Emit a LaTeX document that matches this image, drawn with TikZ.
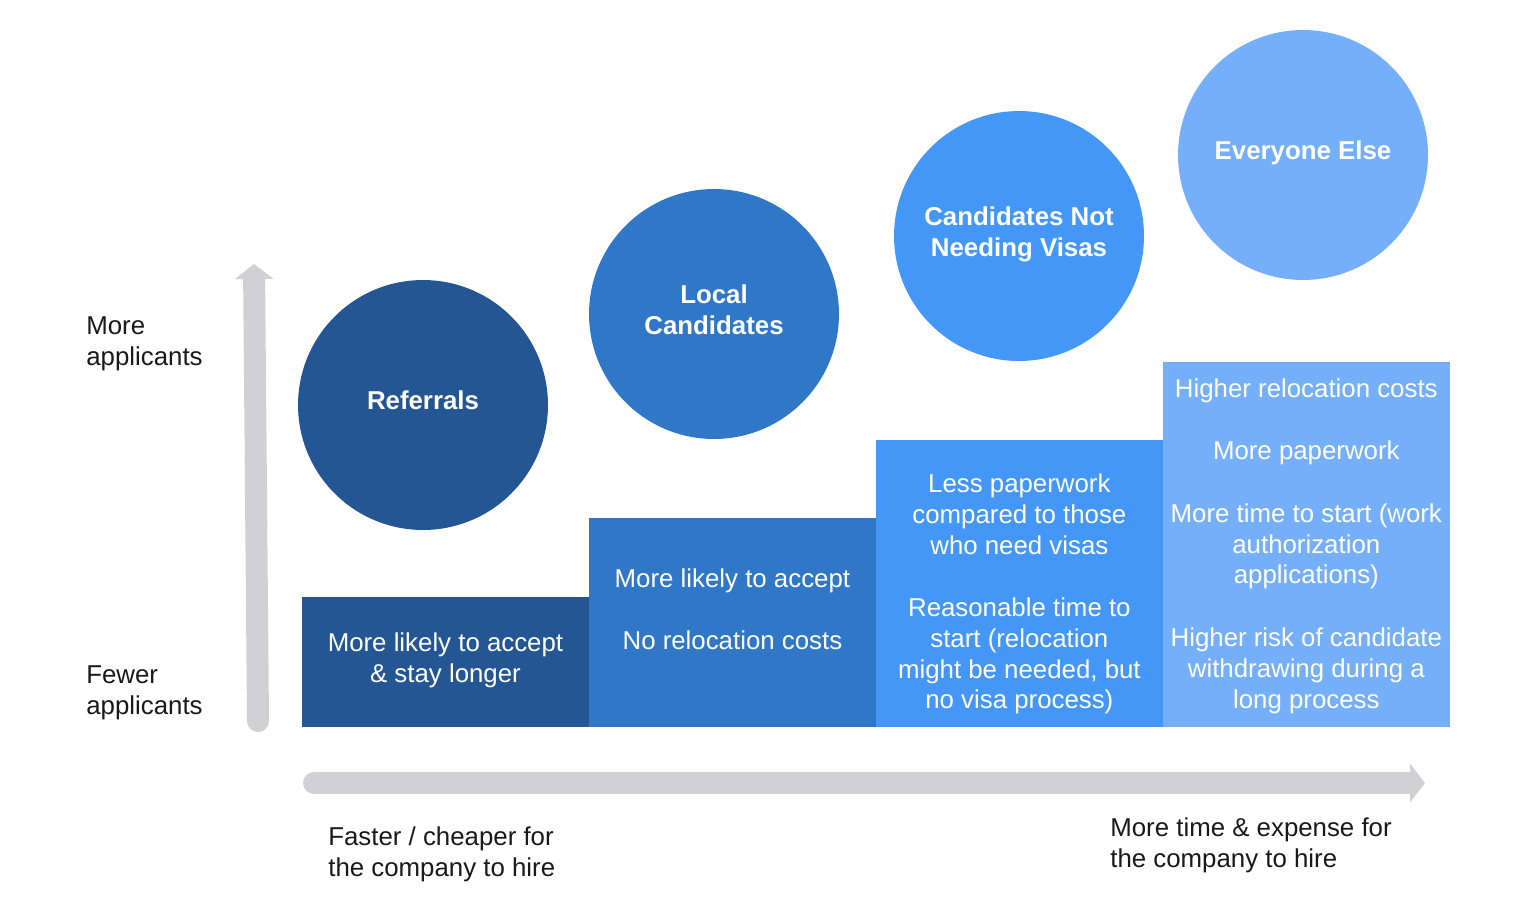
\documentclass[tikz,border=0pt]{standalone}
\usepackage{fontspec}
\setmainfont{Liberation Sans}
\usepackage{xcolor}
\usetikzlibrary{arrows.meta,positioning}

\definecolor{tierone}{HTML}{245693}
\definecolor{tiertwo}{HTML}{3077C8}
\definecolor{tierthree}{HTML}{4597F7}
\definecolor{tierfour}{HTML}{75AFFA}
\definecolor{axisgray}{HTML}{D1D1D3}

\begin{document}
\begin{tikzpicture}[
    x=0.02cm, y=-0.02cm,
    stepbox/.style={rectangle, anchor=south west, inner sep=0pt,
        outer sep=0pt, minimum width=5.74cm},
    steptext/.style={inner sep=0pt, align=center, text=white,
        font=\fontsize{14.7}{17.6}\selectfont},
    bubble/.style={circle, minimum size=5cm, inner sep=0pt,
        text depth=0.18cm,
        align=center, text=white,
        font=\fontsize{14.7}{17.6}\selectfont\bfseries},
    sidelbl/.style={anchor=west, inner sep=0pt, align=left,
        text=black!90, font=\fontsize{14.7}{17.6}\selectfont},
    axisarrow/.style={draw=axisgray, line width=0.44cm, line cap=round,
        -{Triangle[length=0.3cm, width=0.76cm]}}
]
\useasboundingbox (0,0) rectangle (1521,921);

% steps
\node[stepbox, fill=tierone, minimum height=2.6cm] (b1) at (302,727) {};
\node[stepbox, fill=tiertwo, minimum height=4.18cm] (b2) at (b1.south east) {};
\node[stepbox, fill=tierthree, minimum height=5.74cm] (b3) at (b2.south east) {};
\node[stepbox, fill=tierfour, minimum height=7.3cm] (b4) at (b3.south east) {};

\node[steptext] (t1) at ([yshift=0.04cm]b1.center)
    {More likely to accept\\\& stay longer};
\node[steptext] (t2) at ([yshift=0.26cm]b2.center)
    {More likely to accept\\[0.62cm]No relocation costs};
\node[steptext] (t3) at ([yshift=-0.21cm]b3.center)
    {Less paperwork\\compared to those\\who need visas\\[0.62cm]Reasonable time to\\start (relocation\\might be needed, but\\no visa process)};
\node[steptext] (t4) at ([yshift=-0.03cm]b4.center)
    {Higher relocation costs\\[0.63cm]More paperwork\\[0.63cm]More time to start (work\\authorization\\applications)\\[0.63cm]Higher risk of candidate\\withdrawing during a\\long process};

% bubbles
\node[bubble, fill=tierone] (c1) at (423,405) {Referrals};
\node[bubble, fill=tiertwo] (c2) at (714,314) {Local\\Candidates};
\node[bubble, fill=tierthree] (c3) at (1019,236) {Candidates Not\\Needing Visas};
\node[bubble, fill=tierfour] (c4) at (1303,155) {Everyone Else};

% axes
\coordinate (vtail) at (258,721);
\coordinate (vtip) at (254,264);
\coordinate (htail) at (314,783);
\coordinate (htip) at (1425,783);
\draw[axisarrow] (vtail) -- (vtip);
\draw[axisarrow] (htail) -- (htip);

\node[sidelbl] (more) at (86,344) {More\\applicants};
\node[sidelbl] (fewer) at (86,693) {Fewer\\applicants};
\node[sidelbl] (fast) at (328,854) {Faster / cheaper for\\the company to hire};
\node[sidelbl] (slow) at (1110,845) {More time \& expense for\\the company to hire};

\end{tikzpicture}
\end{document}
